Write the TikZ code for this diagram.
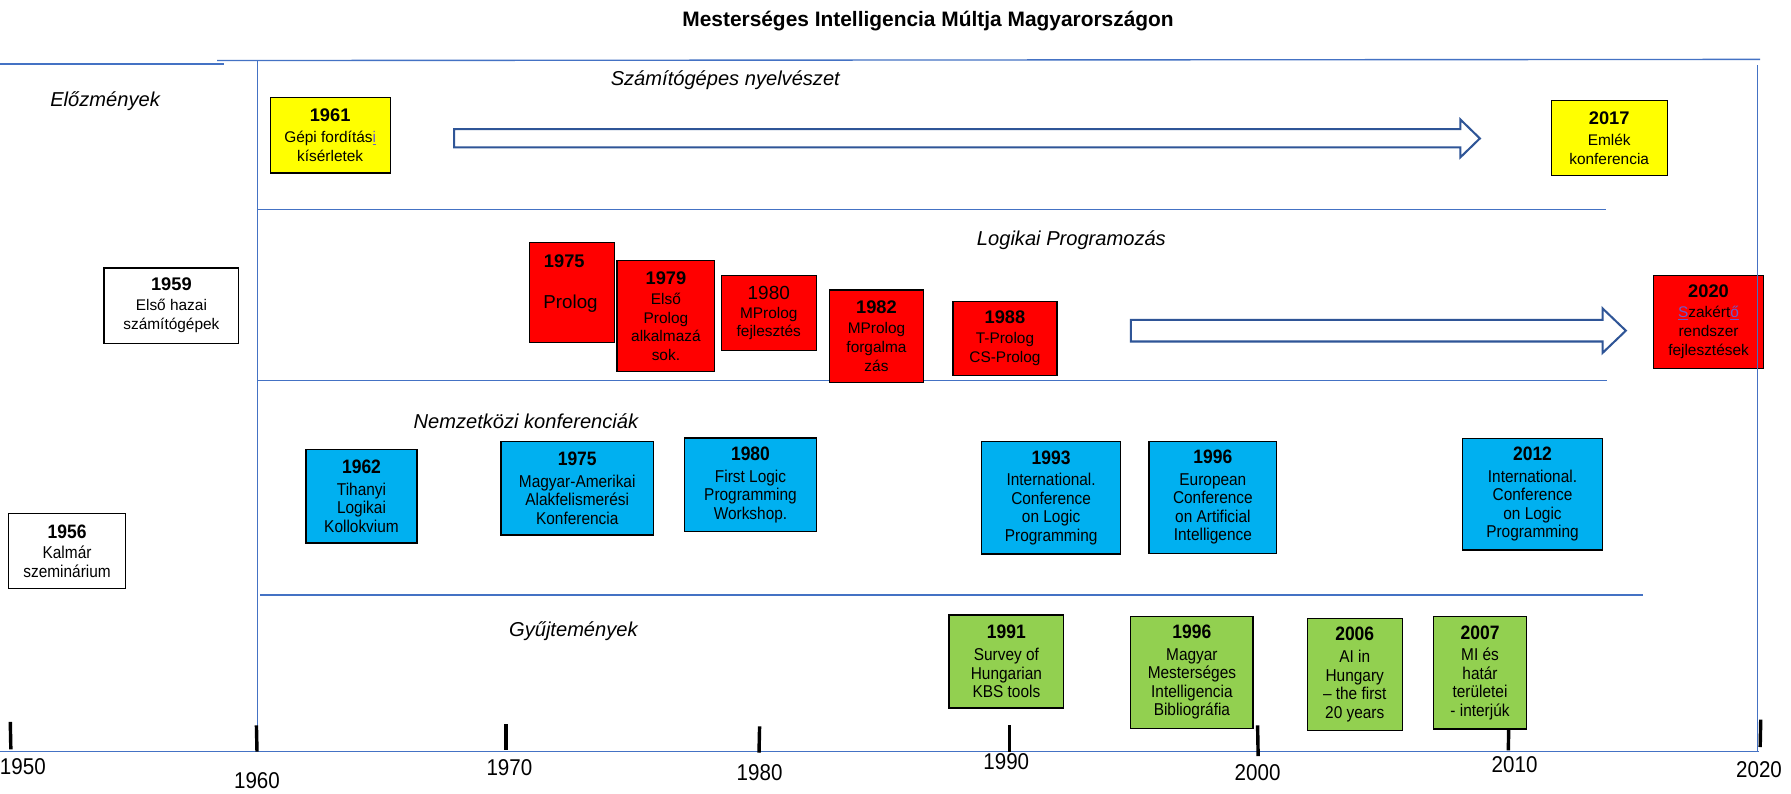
\documentclass[tikz,border=0pt]{standalone}
\usepackage{fontspec}
\setmainfont{Liberation Sans}
\newfontfamily\narrowfont{Liberation Sans}[FakeStretch=0.9]
\definecolor{linec}{HTML}{4472C4}
\definecolor{arrowc}{HTML}{2F5597}
\definecolor{redc}{HTML}{FF0000}
\definecolor{bluec}{HTML}{00B0F0}
\definecolor{greenc}{HTML}{92D050}
\definecolor{yellowc}{HTML}{FFFF00}
\definecolor{spellc}{HTML}{6A5ACD}
\newcommand\regtxt{\fontsize{13.5}{16.5}\selectfont}
\newcommand\regyear{\fontsize{16}{18}\selectfont\bfseries}
\newcommand\nartxt{\narrowfont\fontsize{15}{16.2}\selectfont}
\newcommand\naryear{\narrowfont\fontsize{17}{18}\selectfont\bfseries}
\newcommand\spellmark[1]{{\color{spellc}\underline{#1}}}
\newcommand\tlbox[7]{\node[#1, minimum width={(#5-#3)*1pt}, minimum height={(#6-#4)*1pt}] (#2) at (#3,#4) {#7};}
\tikzset{
  box/.style={draw=black, line width=1.1pt, inner sep=0pt, align=center, anchor=north west},
  whitebox/.style={box, fill=white, font=\regtxt},
  whitenar/.style={box, fill=white, font=\nartxt},
  yellowbox/.style={box, fill=yellowc, font=\regtxt},
  redbox/.style={box, fill=redc, font=\regtxt},
  bluebox/.style={box, fill=bluec, font=\nartxt},
  greenbox/.style={box, fill=greenc, font=\nartxt},
  section/.style={font=\fontsize{17.6}{20}\selectfont\itshape},
  lane/.style={draw=linec, line width=1.2pt},
  vlane/.style={draw=linec, line width=0.9pt},
  tick/.style={draw=black, line width=3pt},
  yearlabel/.style={font=\narrowfont\fontsize{20}{22}\selectfont},
  hollowarrow/.style={draw=arrowc, line width=1.8pt, fill=white, line join=miter},
}
\begin{document}
\begin{tikzpicture}[x=1pt,y=-1pt]
\useasboundingbox (0,0) rectangle (1568,695.1);
\fill[white] (0,0) rectangle (1568,695.1);

% title
\node[font=\fontsize{18.3}{22}\selectfont\bfseries] (title) at (812.5,18) {Mesterséges Intelligencia Múltja Magyarországon};

% lane lines
\coordinate (t0) at (0,56); \coordinate (t1) at (196,56);
\coordinate (m0) at (190,53); \coordinate (m1) at (1541,52);
\coordinate (l2a) at (225,183.5); \coordinate (l2b) at (1406,183.5);
\coordinate (l3a) at (225,333); \coordinate (l3b) at (1407,333);
\coordinate (l4a) at (228,521); \coordinate (l4b) at (1438,521);
\coordinate (ax0) at (0,658); \coordinate (ax1) at (1540,658);
\coordinate (v0a) at (225.5,53); \coordinate (v0b) at (225.5,658);
\coordinate (v1a) at (1538.5,57); \coordinate (v1b) at (1538.5,658);
\draw[lane] (t0) -- (t1);
\draw[lane] (m0) -- (m1);
\draw[lane] (l2a) -- (l2b);
\draw[lane] (l3a) -- (l3b);
\draw[lane] (l4a) -- (l4b);
\draw[lane] (ax0) -- (ax1);
\draw[vlane] (v0a) -- (v0b);

% ticks
\draw[tick] (9,632) -- (9.5,656);
\draw[tick] (224.5,635) -- (225,658);
\draw[tick] (443,634) -- (443,657);
\draw[tick] (665,636) -- (664.5,659);
\draw[tick] (884,635) -- (884,658);
\draw[tick] (1101,635) -- (1101.5,662);
\draw[tick] (1321,630) -- (1320.5,657);
\draw[tick] (1541.5,630) -- (1541,654);

% year labels
\node[yearlabel] (a1950) at (20,671) {1950};
\node[yearlabel] (a1960) at (225,683) {1960};
\node[yearlabel] (a1970) at (446,672) {1970};
\node[yearlabel] (a1980) at (665,676) {1980};
\node[yearlabel] (a1990) at (881,667) {1990};
\node[yearlabel] (a2000) at (1101,676) {2000};
\node[yearlabel] (a2010) at (1326,669) {2010};
\node[yearlabel] (a2020) at (1540,674) {2020};

% section labels
\node[section] (s0) at (92,89) {Előzmények};
\node[section] (s1) at (635,70) {Számítógépes nyelvészet};
\node[section] (s2) at (938,210) {Logikai Programozás};
\node[section] (s3) at (460.4,369) {Nemzetközi konferenciák};
\node[section] (s4) at (502,553) {Gyűjtemények};

% hollow arrows
\draw[hollowarrow] (397.6,113) -- (1278.6,113) -- (1278.6,104.7) -- (1295.6,121.2) -- (1278.6,137.7) -- (1278.6,129) -- (397.6,129) -- cycle;
\draw[hollowarrow] (990,280) -- (1403,280) -- (1403,270) -- (1423.4,289.5) -- (1403,309) -- (1403,299) -- (990,299) -- cycle;

% white boxes
\tlbox{whitebox}{w1959}{90.5}{234}{208.5}{300}{{\regyear 1959}\\[1pt] Első hazai\\ számítógépek}
\tlbox{whitenar}{w1956}{7}{449}{109.3}{514.8}{{\naryear 1956}\\[2pt] Kalmár\\ szeminárium}

% yellow boxes
\tlbox{yellowbox}{y1961}{236}{85}{341}{151}{{\regyear 1961}\\[2pt] Gépi fordítás{\color{spellc}\underline{i}}\\ kísérletek}
\tlbox{yellowbox}{y2017}{1357.5}{87.5}{1459}{153}{{\regyear 2017}\\[2pt] Emlék\\ konferencia}

% red boxes
\tlbox{redbox}{r1975}{462.7}{211.6}{537.2}{299}{}
\node[font=\regyear] (r1975y) at (494,228.5) {1975};
\node[font=\fontsize{16.4}{18}\selectfont] (r1975t) at (499.5,265.5) {Prolog};
\tlbox{redbox}{r1979}{539.6}{227.6}{625.3}{325}{{\regyear 1979}\\[1pt] Első\\ Prolog\\ alkalmazá\\ sok.}
\tlbox{redbox}{r1980}{631}{240.7}{714}{306.4}{{\fontsize{16.6}{18}\selectfont 1980}\\ MProlog\\ fejlesztés}
\tlbox{redbox}{r1982}{725.4}{253.3}{808.2}{334}{{\regyear 1982}\\[1pt] MProlog\\ forgalma\\ zás}
\tlbox{redbox}{r1988}{833.8}{263.5}{924.8}{328}{{\regyear 1988}\\[1pt] T-Prolog\\ CS-Prolog}
\tlbox{redbox}{r2020}{1447}{240.7}{1543.5}{322}{{\regyear 2020}\\[1pt] \spellmark{S}zakért\spellmark{ő}\\ rendszer\\ fejlesztések}

% blue boxes
\tlbox{bluebox}{b1962}{267.3}{393}{364.6}{474.8}{{\naryear 1962}\\[3pt] Tihanyi\\ Logikai\\ Kollokvium}
\tlbox{bluebox}{b1975}{438}{386}{571.6}{467.8}{{\naryear 1975}\\[3pt] Magyar-Amerikai\\ Alakfelismerési\\ Konferencia}
\tlbox{bluebox}{b1980}{599}{383}{714}{465}{{\naryear 1980}\\[3pt] First Logic\\ Programming\\ Workshop.}
\tlbox{bluebox}{b1993}{858.9}{386}{980.5}{484.4}{{\naryear 1993}\\[3pt] International.\\ Conference\\ on Logic\\ Programming}
\tlbox{bluebox}{b1996}{1005.4}{385.8}{1117.2}{483.8}{{\naryear 1996}\\[3pt] European\\ Conference\\ on Artificial\\ Intelligence}
\tlbox{bluebox}{b2012}{1280}{383.2}{1402.3}{480.9}{{\naryear 2012}\\[3pt] International.\\ Conference\\ on Logic\\ Programming}

% green boxes
\tlbox{greenbox}{g1991}{830.3}{537.8}{930.8}{619.2}{{\naryear 1991}\\[3pt] Survey of\\ Hungarian\\ KBS tools}
\tlbox{greenbox}{g1996}{989.5}{539}{1096.4}{637}{{\naryear 1996}\\[3pt] Magyar\\ Mesterséges\\ Intelligencia\\ Bibliográfia}
\tlbox{greenbox}{g2006}{1144}{540.7}{1227}{639}{{\naryear 2006}\\[3pt] AI in\\ Hungary\\ – the first\\ 20 years}
\tlbox{greenbox}{g2007}{1254.4}{539.3}{1336}{637.6}{{\naryear 2007}\\[3pt] MI és\\ határ\\ területei\\ - interjúk}

% right border line on top
\draw[vlane] (v1a) -- (v1b);
\end{tikzpicture}
\end{document}
